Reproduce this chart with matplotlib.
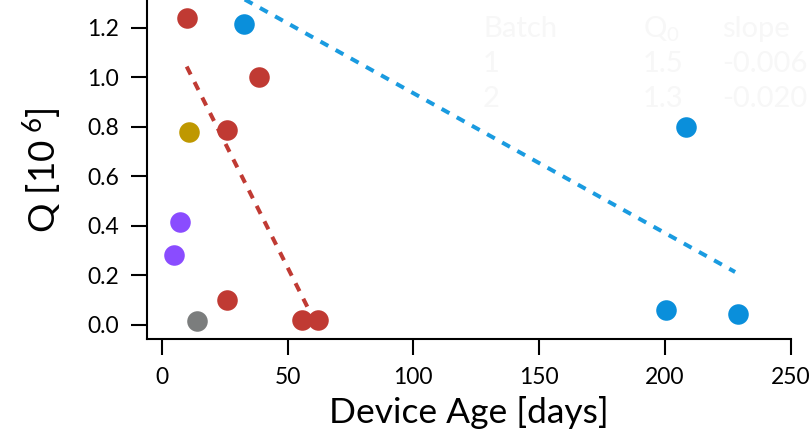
import matplotlib
matplotlib.use('Agg')
import matplotlib.pyplot as plt

# data (age in days, Q in 1e6)
red_age = [9.9, 38.7, 26.0, 26.0, 55.8, 62.1]
red_q = [1.239, 1.002, 0.786, 0.101, 0.020, 0.020]
gold_age = [10.9]
gold_q = [0.78]
purple_age = [7.3, 4.9]
purple_q = [0.416, 0.283]
gray_age = [13.9]
gray_q = [0.017]
blue_age = [32.8, 208.3, 200.4, 229.2]
blue_q = [1.215, 0.800, 0.060, 0.044]

# fit lines (end points)
red_fit_age = [9.9, 60.1]
red_fit_q = [1.044, 0.028]
blue_fit_age = [33.0, 227.9]
blue_fit_q = [1.315, 0.214]

# faint table in upper right
table_header = ['Batch', r'Q$_0$', 'slope']
table_rows = [['1', '1.5', '-0.006'], ['2', '1.3', '-0.020']]

xticks = [0, 50, 100, 150, 200, 250]
yticks = [0.0, 0.2, 0.4, 0.6, 0.8, 1.0, 1.2]

plt.rcParams['font.family'] = ['Lato', 'DejaVu Sans']
plt.rcParams['mathtext.fontset'] = 'custom'
plt.rcParams['mathtext.rm'] = 'Lato'
plt.rcParams['mathtext.it'] = 'Lato'

RED = '#c03a33'
BLUE = '#0a8fdb'
GOLD = '#bf9800'
PURPLE = '#8a4cff'
GRAY = '#7b7d7d'

fig = plt.figure(figsize=(8.12, 4.40), dpi=100)
ax = fig.add_axes([146.7 / 812, 1 - 339.3 / 440, (790.7 - 146.7) / 812, 339.3 / 440])

ms = 14.8
ax.plot(red_fit_age, red_fit_q, color=RED, lw=2.9, dashes=(2.2, 2.1), zorder=2)
ax.plot(blue_fit_age, blue_fit_q, color='#1a9be0', lw=2.9, dashes=(2.2, 2.1), zorder=2)

for age, q, c in [(red_age, red_q, RED), (gold_age, gold_q, GOLD),
                  (purple_age, purple_q, PURPLE), (gray_age, gray_q, GRAY),
                  (blue_age, blue_q, BLUE)]:
    ax.plot(age, q, 'o', color=c, markersize=ms, markeredgewidth=0, zorder=3, clip_on=False)

ax.set_xlim(-6, 250)
ax.set_ylim(-0.058, 1.313)
ax.set_xticks(xticks)
ax.set_yticks(yticks)
ax.set_yticklabels([f'{v:.1f}' for v in yticks])

for side in ['top', 'right']:
    ax.spines[side].set_visible(False)
for side in ['left', 'bottom']:
    ax.spines[side].set_linewidth(1.5)
ax.tick_params(axis='both', direction='out', length=11.5, width=1.5, labelsize=16.5, pad=8.5)

ax.set_xlabel('Device Age [days]', fontsize=25.5, labelpad=5.5)
ax.set_ylabel(r'Q [10$^{\ 6}$]', fontsize=26.5, labelpad=16)

# table text (almost white)
tc = '#f7f7f7'
col_x = [483, 643, 722]
row_y = [37, 72, 107]
for cx, txt in zip(col_x, table_header):
    fig.text(cx / 812, 1 - row_y[0] / 440, txt, fontsize=21, color=tc, ha='left', va='baseline')
for ry, row in zip(row_y[1:], table_rows):
    for cx, txt in zip(col_x, row):
        fig.text(cx / 812, 1 - ry / 440, txt, fontsize=21, color=tc, ha='left', va='baseline')

fig.savefig('out.png', dpi=100)
